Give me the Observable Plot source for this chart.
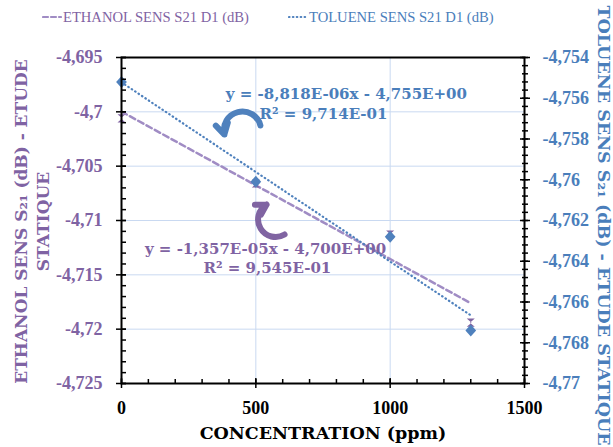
<!DOCTYPE html>
<html><head><meta charset="utf-8">
<script src="https://cdn.jsdelivr.net/npm/d3@7"></script>
<script src="https://cdn.jsdelivr.net/npm/@observablehq/plot@0.6"></script>
<style>
body{margin:0;background:#fff;}
#wrap{position:relative;width:613px;height:447px;overflow:hidden;font-family:"DejaVu Serif",serif;}
#legend{position:absolute;top:7px;left:0;width:613px;height:20px;font-family:"Liberation Serif",serif;font-size:14.6px;}
.item{position:absolute;top:0;display:flex;align-items:center;white-space:nowrap;height:20px;}
.item svg{margin-right:1px;}
</style></head><body>
<div id="wrap"><div id="legend"></div><div id="chart"></div></div>
<script>
// ---- data ----
const concentration = [0, 500, 1000, 1300];
const ethanol = [-4.7006, -4.7066, -4.7113, -4.7194];
const toluene = [-4.7552, -4.7601, -4.7628, -4.7674];
const seriesNames = ["ETHANOL SENS S21 D1 (dB)", "TOLUENE SENS S21 D1 (dB)"];
const ethanolTicks = [-4.695, -4.7, -4.705, -4.71, -4.715, -4.72, -4.725];
const tolueneTicks = [-4.754, -4.756, -4.758, -4.76, -4.762, -4.764, -4.766, -4.768, -4.77];
const xTicks = [0, 500, 1000, 1500];
const xGrid = [500, 1000];
const ethanolEq = ["y = -1,357E-05x - 4,700E+00", "R² = 9,545E-01"];
const tolueneEq = ["y = -8,818E-06x - 4,755E+00", "R² = 9,714E-01"];
const xTitle = "CONCENTRATION (ppm)";
const leftTitle = "ETHANOL SENS S₂₁ (dB) - ETUDE\nSTATIQUE";
const rightTitle = "TOLUENE SENS S₂₁ (dB) - ETUDE STATIQUE";

// ---- styles ----
const purple = "#8064a2", purpleLine = "#a08cc4", purpleText = "#7f63a3";
const blue = "#4f81bd", blueText = "#4a7ebb";
const gridColor = "#c9d9f1";
const tickFont = "Liberation Serif";

// right axis mapped onto left scale
const toLeft = d3.scaleLinear().domain([-4.77, -4.754]).range([-4.725, -4.695]);
const fmt = v => String(+(+v).toFixed(4)).replace(".", ",");

const ethData = concentration.map((c, i) => ({c, v: ethanol[i]}));
const tolData = concentration.map((c, i) => ({c, v: toLeft(toluene[i]), raw: toluene[i]}));

const ethMinor = d3.range(0, 31).map(i => +(-4.725 + i * 0.001).toFixed(4));
const tolMinor = d3.range(0, 41).map(i => toLeft(-4.77 + i * 0.0004));
const xMinor = d3.range(0, 1501, 100);

const hourglass = {draw(ctx, size) {
  const r = Math.sqrt(size) / 2 * 0.95;
  ctx.moveTo(-r, -r); ctx.lineTo(r, -r); ctx.lineTo(-r * 0.2, 0); ctx.lineTo(r, r);
  ctx.lineTo(-r, r); ctx.lineTo(r * 0.2, 0); ctx.closePath();
}};
const diamond = {draw(ctx, size) {
  const r = Math.sqrt(size) / 2 * 1.2;
  ctx.moveTo(0, -r); ctx.lineTo(r * 0.9, 0); ctx.lineTo(0, r); ctx.lineTo(-r * 0.9, 0); ctx.closePath();
}};

// annotation placement (data coordinates)
const tolEqPos = [{x: 837, y: -4.6984, t: tolueneEq[0]}, {x: 752, y: -4.7002, t: tolueneEq[1]}];
const ethEqPos = [{x: 536, y: -4.7126, t: ethanolEq[0]}, {x: 543, y: -4.7144, t: ethanolEq[1]}];
const blueArrow = [{x1: 517, y1: -4.70126, x2: 383, y2: -4.70209}];
const purpleArrow = [{x1: 607, y1: -4.71129, x2: 540, y2: -4.70853}];

const tickStyle = {stroke: "black", strokeWidth: 1.5, fill: null, label: null};

const chart = Plot.plot({
  width: 613, height: 447,
  marginTop: 57, marginBottom: 64, marginLeft: 121, marginRight: 89,
  x: {domain: [0, 1500]},
  y: {domain: [-4.725, -4.695]},
  style: {fontFamily: "DejaVu Serif", background: "white", overflow: "hidden"},
  marks: [
    Plot.gridY(ethanolTicks.slice(1, -1), {stroke: gridColor, strokeOpacity: 1, strokeWidth: 1}),
    Plot.gridX(xGrid, {stroke: gridColor, strokeOpacity: 1, strokeWidth: 1}),
    Plot.linearRegressionY(ethData, {x: "c", y: "v", stroke: purpleLine, strokeWidth: 2.5, strokeDasharray: "6,3.5", strokeLinecap: "round", ci: 0}),
    Plot.linearRegressionY(tolData, {x: "c", y: "v", stroke: blue, strokeWidth: 2.2, strokeDasharray: "0.5,3.6", strokeLinecap: "round", ci: 0}),
    Plot.dot(ethData, {x: "c", y: "v", symbol: hourglass, fill: purple, r: 4.8}),
    Plot.dot(tolData, {x: "c", y: "v", symbol: diamond, fill: blue, r: 5.6}),
    Plot.text(tolEqPos, {x: "x", y: "y", text: "t", fill: blueText, fontSize: 15, fontWeight: "bold"}),
    Plot.text(ethEqPos, {x: "x", y: "y", text: "t", fill: purpleText, fontSize: 15, fontWeight: "bold"}),
    Plot.arrow(blueArrow, {x1: "x1", y1: "y1", x2: "x2", y2: "y2", bend: -90, stroke: blue, strokeWidth: 6, headLength: 11}),
    Plot.arrow(purpleArrow, {x1: "x1", y1: "y1", x2: "x2", y2: "y2", bend: 90, stroke: purple, strokeWidth: 6, headLength: 11}),
    Plot.frame({stroke: "black", strokeWidth: 2}),
    // left axis
    Plot.axisY(ethanolTicks, {anchor: "left", tickSize: 5, tickPadding: 14, tickFormat: fmt, fill: purpleText, stroke: "black", strokeWidth: 1.5, fontSize: 18, fontFamily: tickFont, fontWeight: "bold", label: null}),
    Plot.axisY(ethanolTicks, {anchor: "left", tickSize: -5, ...tickStyle}),
    Plot.axisY(ethMinor, {anchor: "left", tickSize: -5, ...tickStyle}),
    // right axis
    Plot.axisY(tolueneTicks.map(toLeft), {anchor: "right", tickSize: 5, tickPadding: 13, tickFormat: v => fmt(toLeft.invert(v)), fill: blueText, stroke: "black", strokeWidth: 1.5, fontSize: 18, fontFamily: tickFont, fontWeight: "bold", label: null}),
    Plot.axisY(tolueneTicks.map(toLeft), {anchor: "right", tickSize: -5, ...tickStyle}),
    Plot.axisY(tolMinor, {anchor: "right", tickSize: 3, ...tickStyle}),
    Plot.axisY(tolMinor, {anchor: "right", tickSize: -3, ...tickStyle}),
    // x axis
    Plot.axisX(xTicks, {anchor: "bottom", tickSize: 5, tickPadding: 13, tickFormat: d => String(d), fill: "black", stroke: "black", strokeWidth: 1.5, fontSize: 18, fontFamily: tickFont, fontWeight: "bold", label: null}),
    Plot.axisX(xTicks, {anchor: "bottom", tickSize: -5, ...tickStyle}),
    Plot.axisX(xMinor, {anchor: "bottom", tickSize: -4, ...tickStyle}),
    // titles
    Plot.text([xTitle], {frameAnchor: "bottom", dy: 50, lineAnchor: "middle", fill: "black", fontSize: 17.5, fontWeight: "bold"}),
    Plot.text([leftTitle], {frameAnchor: "left", dx: -91, dy: 1, rotate: -90, textAnchor: "middle", lineAnchor: "middle", fill: purpleText, fontSize: 17, fontWeight: "bold", lineHeight: 1.3}),
    Plot.text([rightTitle], {frameAnchor: "top-right", dx: 79, dy: -52, rotate: 90, textAnchor: "start", lineAnchor: "middle", fill: blueText, fontSize: 17.5, fontWeight: "bold"})
  ]
});
document.getElementById("chart").appendChild(chart);

// legend
const legend = document.getElementById("legend");
const items = [
  {name: seriesNames[0], left: 42, color: purpleLine, textColor: purpleText, dash: "5,3"},
  {name: seriesNames[1], left: 288, color: blue, textColor: blueText, dash: "0.5,3.4"}
];
for (const it of items) {
  const div = document.createElement("div");
  div.className = "item";
  div.style.left = it.left + "px";
  div.style.color = it.textColor;
  div.innerHTML = `<svg width="20" height="10"><line x1="1" y1="5" x2="19" y2="5" stroke="${it.color}" stroke-width="2.2" stroke-linecap="round" stroke-dasharray="${it.dash}"/></svg><span>${it.name}</span>`;
  legend.appendChild(div);
}
</script>
</body></html>
